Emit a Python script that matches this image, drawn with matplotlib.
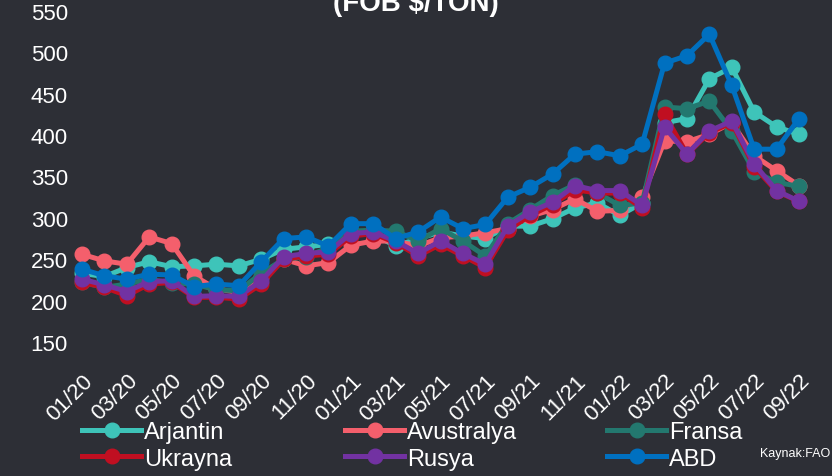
import matplotlib.pyplot as plt

# monthly FOB wheat prices, 01/2020 - 09/2022
months = ["01/20", "02/20", "03/20", "04/20", "05/20", "06/20", "07/20", "08/20", "09/20",
          "10/20", "11/20", "12/20", "01/21", "02/21", "03/21", "04/21", "05/21", "06/21",
          "07/21", "08/21", "09/21", "10/21", "11/21", "12/21", "01/22", "02/22", "03/22",
          "04/22", "05/22", "06/22", "07/22", "08/22", "09/22"]

arjantin = [233, 229, 240, 247, 241, 242, 244, 242, 250, 262, 265, 268, 283, 280, 266, 275,
            283, 278, 275, 290, 290, 299, 312, 318, 303, 318, 415, 420, 468, 482, 428, 410, 401]
avustralya = [256, 248, 244, 277, 269, 230, 214, 210, 228, 250, 242, 246, 267, 272, 272, 266,
              276, 278, 282, 287, 302, 310, 323, 308, 309, 325, 393, 392, 401, 415, 375, 357, 339]
fransa = [222, 216, 220, 226, 221, 220, 213, 212, 233, 250, 253, 264, 284, 285, 284, 272,
          287, 272, 254, 293, 310, 327, 340, 330, 315, 318, 434, 432, 441, 405, 356, 343, 338]
ukrayna = [222, 216, 206, 220, 222, 204, 204, 202, 220, 250, 254, 256, 278, 281, 270, 254,
           268, 254, 240, 285, 303, 316, 334, 330, 330, 312, 425, 377, 403, 415, 362, 332, 320]
rusya = [226, 219, 211, 223, 224, 205, 206, 205, 224, 253, 257, 259, 281, 283, 272, 257,
         272, 257, 244, 290, 307, 319, 339, 333, 333, 315, 410, 377, 405, 417, 365, 333, 320]
abd = [238, 230, 226, 232, 231, 217, 220, 218, 247, 275, 277, 266, 293, 293, 275, 283,
       301, 287, 292, 325, 337, 353, 377, 380, 375, 389, 487, 496, 522, 460, 383, 383, 420]

series = [("Arjantin", arjantin, "#3ec4b9"),
          ("Avustralya", avustralya, "#f45f6c"),
          ("Fransa", fransa, "#23786f"),
          ("Ukrayna", ukrayna, "#c00f21"),
          ("Rusya", rusya, "#7232a2"),
          ("ABD", abd, "#0070c0")]

bg = "#2d2f36"
plt.rcParams["font.family"] = ["Liberation Sans", "DejaVu Sans"]

fig = plt.figure(figsize=(8.32, 4.77), dpi=100, facecolor=bg)
ax = fig.add_axes([82 / 832, 1 - 343 / 477, (799 - 82) / 832, (343 - 12) / 477])
ax.set_facecolor(bg)

x = list(range(len(months)))
lines = []
for name, vals, col in series:
    ln, = ax.plot(x, vals, color=col, lw=3.6, marker="o", ms=10.5, label=name, clip_on=False)
    lines.append(ln)

ax.set_xlim(0, len(months) - 1)
ax.set_ylim(150, 550)
ax.set_yticks(range(150, 551, 50))
ax.set_xticks(x[::2])
ax.set_xticklabels(months[::2], rotation=45, ha="right", rotation_mode="anchor")
ax.tick_params(colors="white", labelsize=16, length=0)
ax.tick_params(axis="y", pad=37)
ax.tick_params(axis="x", pad=20)
for lbl in ax.get_yticklabels():
    lbl.set_horizontalalignment("left")
for sp in ax.spines.values():
    sp.set_visible(False)

fig.text(0.5, 1 - 11 / 477, "(FOB $/TON)", color="white", fontsize=20, fontweight="bold",
         ha="center", va="baseline")

# legend laid out as three fixed columns
col_x = [82, 345, 607]
for j in range(3):
    fig.legend([lines[j], lines[j + 3]], [series[j][0], series[j + 3][0]],
               loc="upper left", bbox_to_anchor=(col_x[j] / 832, 1 - 422 / 477),
               frameon=False, fontsize=17, labelcolor="white", handlelength=2.5,
               handletextpad=0.12, labelspacing=0.2, borderaxespad=0, borderpad=0)

fig.text(760 / 832, 1 - 454 / 477, "Kaynak:FAO", color="white", fontsize=9, ha="left", va="center")

fig.savefig("out.png", dpi=100, facecolor=bg)
